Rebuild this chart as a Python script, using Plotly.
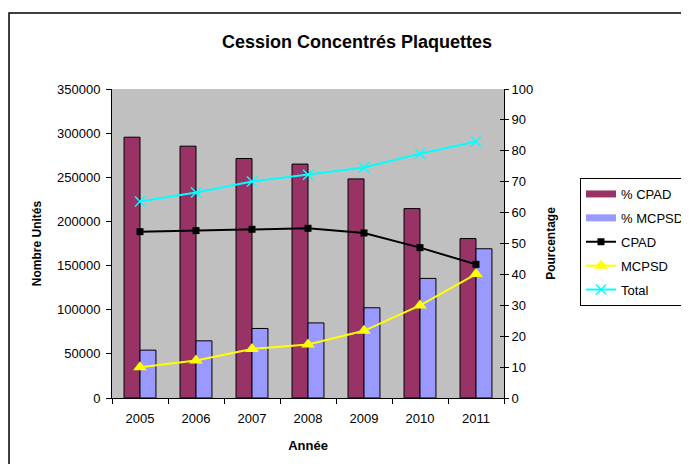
import plotly.graph_objects as go

years = ["2005", "2006", "2007", "2008", "2009", "2010", "2011"]
pct_cpad = [84.4, 81.5, 77.5, 75.7, 70.9, 61.3, 51.6]
pct_mcpsd = [15.5, 18.5, 22.5, 24.3, 29.2, 38.7, 48.3]
cpad = [188400, 189600, 191100, 192200, 186900, 170300, 151400]
mcpsd = [34800, 42400, 55600, 60500, 76100, 104800, 140400]
total = [222500, 232700, 245200, 252800, 261100, 276600, 290600]

left_ticks = [0, 50000, 100000, 150000, 200000, 250000, 300000, 350000]
left_labels = ["0", "50000", "100000", "150000", "200000", "250000", "300000", "350000"]
right_ticks = [0, 10, 20, 30, 40, 50, 60, 70, 80, 90, 100]

FONT = "Liberation Sans, Arial, sans-serif"
OFF = 8  # default page body margin
C_CPAD, C_MCPSD = "#993366", "#9999FF"

fig = go.Figure()
fig.add_trace(go.Bar(x=years, y=pct_cpad, name="% CPAD", yaxis="y", showlegend=False,
                     marker=dict(color=C_CPAD, line=dict(color="#000000", width=1))))
fig.add_trace(go.Bar(x=years, y=pct_mcpsd, name="% MCPSD", yaxis="y", showlegend=False,
                     marker=dict(color=C_MCPSD, line=dict(color="#000000", width=1))))
# legend swatches for the bar series (wide rectangles as in the original)
fig.add_trace(go.Scatter(x=[None], y=[None], name="% CPAD", yaxis="y", mode="lines", legendgroup="a",
                         line=dict(color=C_CPAD, width=7)))
fig.add_trace(go.Scatter(x=[None], y=[None], name="% MCPSD", yaxis="y", mode="lines", legendgroup="b",
                         line=dict(color=C_MCPSD, width=7)))
fig.add_trace(go.Scatter(x=years, y=cpad, name="CPAD", yaxis="y2", mode="lines+markers", legendgroup="c",
                         line=dict(color="#000000", width=2),
                         marker=dict(symbol="square", size=7, color="#000000")))
fig.add_trace(go.Scatter(x=years, y=mcpsd, name="MCPSD", yaxis="y2", mode="lines+markers", legendgroup="d",
                         line=dict(color="#FFFF00", width=2),
                         marker=dict(symbol="triangle-up", size=12, color="#FFFF00")))
fig.add_trace(go.Scatter(x=years, y=total, name="Total", yaxis="y2", mode="lines+markers", legendgroup="e",
                         line=dict(color="#00FFFF", width=2),
                         marker=dict(symbol="x-thin", size=10, color="#00FFFF",
                                     line=dict(color="#00FFFF", width=1.5))))
fig.add_trace(go.Scatter(x=[], y=[], yaxis="y3", showlegend=False, hoverinfo="skip"))

W, H = 689 - OFF, 464 - OFF
fig.update_layout(
    width=W, height=H,
    margin=dict(l=112 - OFF, r=689 - 504, t=89 - OFF, b=464 - 398, autoexpand=False),
    paper_bgcolor="#FFFFFF",
    plot_bgcolor="#C0C0C0",
    font=dict(family=FONT, size=13, color="#000000"),
    barmode="group", bargap=0.43, bargroupgap=0,
    title=dict(text="<b>Cession Concentrés Plaquettes</b>", font=dict(size=18, family=FONT),
               xref="container", x=(357 - OFF) / W, xanchor="center",
               yref="container", y=1 - (42 - OFF) / H, yanchor="middle"),
    xaxis=dict(type="category", showgrid=False, showline=True, linecolor="#000000", linewidth=1,
               ticks="outside", tickson="boundaries", ticklen=5, tickcolor="#000000",
               tickfont=dict(size=13), automargin=False, ticklabelstandoff=8,
               title=dict(text="<b>Année</b>", font=dict(size=13), standoff=16)),
    yaxis=dict(side="right", range=[0, 100], tickvals=right_ticks, showgrid=False, zeroline=False,
               showline=True, linecolor="#000000", linewidth=1, automargin=False,
               ticks="outside", ticklen=4, tickcolor="#000000", tickfont=dict(size=13),
               title=dict(text="<b>Pourcentage</b>", font=dict(size=12), standoff=14)),
    yaxis2=dict(overlaying="y", side="left", range=[0, 350000], tickvals=left_ticks, ticktext=left_labels,
                showgrid=False, zeroline=False, showline=True, linecolor="#000000", linewidth=1,
                ticks="outside", ticklen=5, tickcolor="#000000", tickfont=dict(size=13), automargin=False,
                ticklabelstandoff=3,
                title=dict(text="<b>Nombre Unités</b>", font=dict(size=12), standoff=12)),
    yaxis3=dict(overlaying="y", side="right", range=[0, 100], tickvals=right_ticks,
                showgrid=False, zeroline=False, showline=False, showticklabels=False,
                ticks="inside", ticklen=4, tickcolor="#000000"),
    legend=dict(x=(580 - 112) / 392, xanchor="left", y=(398 - 178) / 309, yanchor="top",
                bordercolor="#000000", borderwidth=1, bgcolor="#FFFFFF",
                font=dict(size=13), traceorder="grouped", tracegroupgap=4),
    shapes=[dict(type="rect", xref="paper", yref="paper",
                 x0=(9 - 112) / 392, x1=(720 - 112) / 392,
                 y0=(398 - 480) / 309, y1=(398 - 13) / 309,
                 line=dict(color="#000000", width=1.5), fillcolor="rgba(0,0,0,0)", layer="below")],
)

fig.write_html("out.html")
